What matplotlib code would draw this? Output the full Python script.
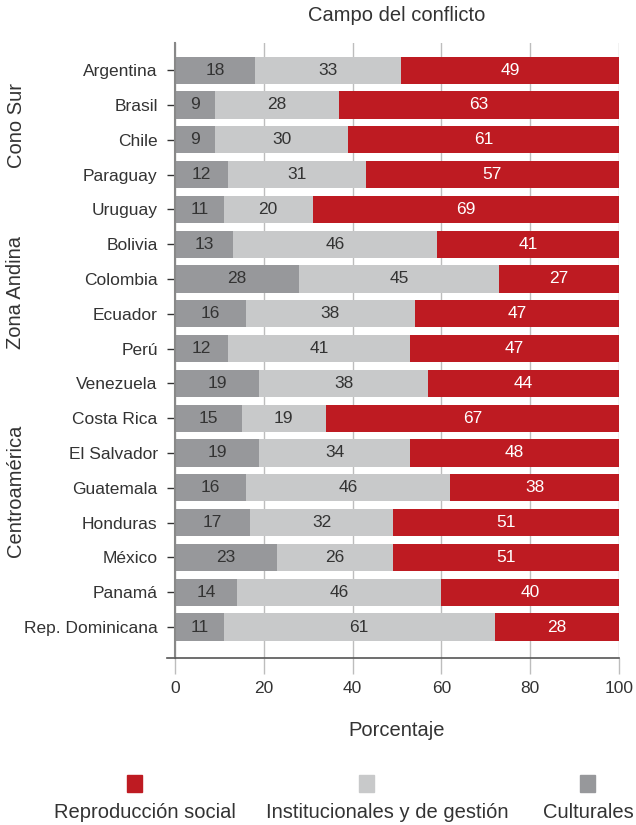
import matplotlib
matplotlib.use("Agg")
import matplotlib.pyplot as plt
import matplotlib.transforms as mtrans
from matplotlib.lines import Line2D
from matplotlib.patches import Rectangle

plt.rcParams['font.family'] = ['Liberation Sans', 'DejaVu Sans']

countries = ["Argentina", "Brasil", "Chile", "Paraguay", "Uruguay",
             "Bolivia", "Colombia", "Ecuador", "Perú", "Venezuela",
             "Costa Rica", "El Salvador", "Guatemala", "Honduras", "México",
             "Panamá", "Rep. Dominicana"]
culturales = [18, 9, 9, 12, 11, 13, 28, 16, 12, 19, 15, 19, 16, 17, 23, 14, 11]
institucionales = [33, 28, 30, 31, 20, 46, 45, 38, 41, 38, 19, 34, 46, 32, 26, 46, 61]
reproduccion = [49, 63, 61, 57, 69, 41, 27, 47, 47, 44, 67, 48, 38, 51, 51, 40, 28]
groups = ["Cono Sur", "Zona Andina", "Centroamérica"]
group_pos = [1.6, 6.4, 12.1]
x_ticks = [0, 20, 40, 60, 80, 100]
series_names = ["Reproducción social", "Institucionales y de gestión", "Culturales"]

c_red = "#BE1B22"
c_light = "#C8C9CA"
c_dark = "#97989B"
txt = "#333333"

fig = plt.figure(figsize=(6.36, 8.25), dpi=100)
ax = fig.add_axes([175/636, 1-658/825, 444/636, 615/825])

y = list(range(len(countries)))
h = 0.78
ax.barh(y, culturales, height=h, color=c_dark, zorder=2)
ax.barh(y, institucionales, left=culturales, height=h, color=c_light, zorder=2)
left3 = [a + b for a, b in zip(culturales, institucionales)]
ax.barh(y, reproduccion, left=left3, height=h, color=c_red, zorder=2)

fs = 12.5
for i in y:
    c, ins, r = culturales[i], institucionales[i], reproduccion[i]
    ax.text(c/2, i, str(c), ha='center', va='center', color=txt, fontsize=fs, zorder=3)
    ax.text(c + ins/2, i, str(ins), ha='center', va='center', color=txt, fontsize=fs, zorder=3)
    s = c + ins
    e = min(s + r, 100)
    ax.text((s + e)/2, i, str(r), ha='center', va='center', color='white', fontsize=fs, zorder=3)

ax.set_xlim(0, 100)
ax.set_ylim(16.89, -0.78)
ax.set_yticks(y)
ax.set_yticklabels(countries, fontsize=fs, color=txt)
ax.set_xticks(x_ticks)
ax.set_xticklabels([str(t) for t in x_ticks], fontsize=fs, color=txt)
ax.xaxis.grid(True, color="#BDBDBD", linewidth=1, zorder=0)
ax.set_axisbelow(True)
for s in ['top', 'right']:
    ax.spines[s].set_visible(False)
ax.spines['left'].set_color('#888888')
ax.spines['left'].set_linewidth(1.5)
ax.spines['bottom'].set_color('#555555')
ax.spines['bottom'].set_linewidth(1.2)
ax.tick_params(axis='y', direction='inout', length=11, width=1, color='#333333', pad=7)
ax.tick_params(axis='x', direction='out', length=11.5, width=1, color='#BDBDBD', pad=5)

# extend bottom spine slightly left
ax.add_line(Line2D([-1.8, 0], [16.89, 16.89], color='#555555', linewidth=1.2, clip_on=False,
                   transform=ax.transData))

ax.set_title("Campo del conflicto", fontsize=14.5, color=txt, pad=16)
ax.set_xlabel("Porcentaje", fontsize=14.5, color=txt, labelpad=18)

tr = mtrans.blended_transform_factory(fig.transFigure, ax.transData)
for g, p in zip(groups, group_pos):
    fig.text(16/636, p, g, rotation=90, ha='center', va='center', fontsize=14.5, color=txt,
             transform=tr)

# legend
leg_cols = [c_red, c_light, c_dark]
leg_mark_x = [134.5, 366.5, 587]
leg_text_x = [145, 387, 588]
for name, col, mx, tx in zip(series_names, leg_cols, leg_mark_x, leg_text_x):
    fig.patches.append(Rectangle(((mx-7.5)/636, 1-792/825), 15/636, 17/825, color=col,
                                 transform=fig.transFigure, figure=fig))
    fig.text(tx/636, 1-812/825, name, ha='center', va='center', fontsize=14.5, color=txt)

fig.savefig("out.png", dpi=100)
